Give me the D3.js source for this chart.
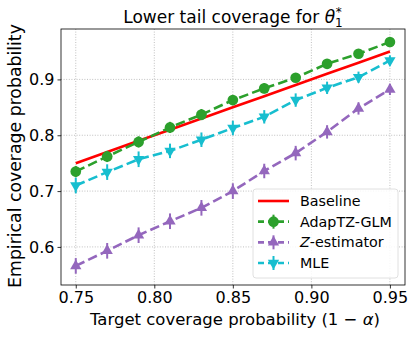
<!DOCTYPE html>
<html>
<head>
<meta charset="utf-8">
<script src="https://cdn.jsdelivr.net/npm/d3@7"></script>
<style>
  body { margin: 0; background: #fff; }
  text { font-family: "DejaVu Sans", sans-serif; fill: #000; }
</style>
</head>
<body>
<script>
//chart data
var targets = [0.75, 0.77, 0.79, 0.81, 0.83, 0.85, 0.87, 0.89, 0.91, 0.93, 0.95];
var adapValues = [0.735, 0.762, 0.788, 0.814, 0.837, 0.863, 0.884, 0.903, 0.928, 0.946, 0.967];
var zestValues = [0.566, 0.593, 0.621, 0.646, 0.670, 0.700, 0.736, 0.768, 0.806, 0.848, 0.882];
var mleValues = [0.710, 0.734, 0.757, 0.772, 0.792, 0.813, 0.833, 0.863, 0.885, 0.904, 0.934];
var adapErr = [0.010, 0.010, 0.010, 0.010, 0.010, 0.009, 0.009, 0.008, 0.008, 0.007, 0.007];
var zestErr = [0.014, 0.014, 0.014, 0.014, 0.014, 0.014, 0.013, 0.013, 0.012, 0.011, 0.010];
var mleErr = [0.014, 0.014, 0.014, 0.013, 0.013, 0.013, 0.012, 0.012, 0.011, 0.010, 0.009];
var xTicks = [0.75, 0.80, 0.85, 0.90, 0.95];
var yTicks = [0.6, 0.7, 0.8, 0.9];
var legendNames = ["Baseline", "AdapTZ-GLM", "Z-estimator", "MLE"];

var w = 416, h = 337;
var pLeft = 61, pRight = 405, pTop = 29, pBottom = 285;

window.onload = function(){

    var svg = d3.select("body")
        .append("svg")
        .attr("width", w)
        .attr("height", h);

    var x = d3.scaleLinear()
        .domain([0.7406, 0.9596])
        .range([pLeft, pRight]);

    var y = d3.scaleLinear()
        .domain([0.5318, 0.9903])
        .range([pBottom, pTop]);

    //dotted grid
    svg.append("g").selectAll("line")
        .data(xTicks)
        .enter()
        .append("line")
        .attr("x1", function(d){ return x(d); })
        .attr("x2", function(d){ return x(d); })
        .attr("y1", pTop)
        .attr("y2", pBottom)
        .style("stroke", "#b0b0b0")
        .style("stroke-width", 0.8)
        .style("stroke-dasharray", "1,1.6");

    svg.append("g").selectAll("line")
        .data(yTicks)
        .enter()
        .append("line")
        .attr("y1", function(d){ return y(d); })
        .attr("y2", function(d){ return y(d); })
        .attr("x1", pLeft)
        .attr("x2", pRight)
        .style("stroke", "#b0b0b0")
        .style("stroke-width", 0.8)
        .style("stroke-dasharray", "1,1.6");

    //axes
    var xAxis = d3.axisBottom(x)
        .tickValues(xTicks)
        .tickFormat(d3.format(".2f"))
        .tickSize(3.5)
        .tickPadding(3);

    var yAxis = d3.axisLeft(y)
        .tickValues(yTicks)
        .tickFormat(d3.format(".1f"))
        .tickSize(3.5)
        .tickPadding(3);

    var gx = svg.append("g")
        .attr("transform", "translate(0," + pBottom + ")")
        .call(xAxis);
    var gy = svg.append("g")
        .attr("transform", "translate(" + pLeft + ",0)")
        .call(yAxis);
    [gx, gy].forEach(function(g){
        g.select(".domain").remove();
        g.selectAll("text").style("font-size", "16px").style("font-family", "DejaVu Sans");
        g.selectAll("line").style("stroke", "#000").style("stroke-width", 0.8);
    });

    svg.append("rect")
        .attr("x", pLeft)
        .attr("y", pTop)
        .attr("width", pRight - pLeft)
        .attr("height", pBottom - pTop)
        .style("fill", "none")
        .style("stroke", "#000")
        .style("stroke-width", 0.8);

    //baseline y = x
    var line = d3.line()
        .x(function(d){ return x(d[0]); })
        .y(function(d){ return y(d[1]); });

    svg.append("path")
        .datum(targets.map(function(t){ return [t, t]; }))
        .attr("d", line)
        .style("fill", "none")
        .style("stroke", "#ff0000")
        .style("stroke-width", 2.6);

    var series = [
        {name: legendNames[1], values: adapValues, err: adapErr, color: "#2ca02c", sym: d3.symbolCircle, size: 90, rot: 0},
        {name: legendNames[2], values: zestValues, err: zestErr, color: "#9467bd", sym: d3.symbolTriangle, size: 55, rot: 0},
        {name: legendNames[3], values: mleValues, err: mleErr, color: "#17becf", sym: d3.symbolTriangle, size: 55, rot: 180}
    ];

    series.forEach(function(s){
        var pts = targets.map(function(t, i){ return [t, s.values[i], s.err[i]]; });
        var g = svg.append("g");

        g.append("path")
            .datum(pts)
            .attr("d", line)
            .style("fill", "none")
            .style("stroke", s.color)
            .style("stroke-width", 2.6)
            .style("stroke-dasharray", "9.6,4.2");

        g.selectAll(".err")
            .data(pts)
            .enter()
            .append("line")
            .attr("x1", function(d){ return x(d[0]); })
            .attr("x2", function(d){ return x(d[0]); })
            .attr("y1", function(d){ return y(d[1] - d[2]); })
            .attr("y2", function(d){ return y(d[1] + d[2]); })
            .style("stroke", s.color)
            .style("stroke-width", 2);

        g.selectAll(".mark")
            .data(pts)
            .enter()
            .append("path")
            .attr("d", d3.symbol().type(s.sym).size(s.size))
            .attr("transform", function(d){
                return "translate(" + x(d[0]) + "," + y(d[1]) + ") rotate(" + s.rot + ")";
            })
            .style("fill", s.color);
    });

    //title
    var title = svg.append("text")
        .attr("x", (pLeft + pRight) / 2)
        .attr("y", 23)
        .attr("text-anchor", "middle")
        .style("font-size", "17px");
    title.append("tspan").text("Lower tail coverage for ");
    title.append("tspan").style("font-style", "italic").text("θ");
    title.append("tspan").attr("dy", 4).style("font-size", "12px").text("1");
    title.append("tspan").attr("dx", -7).attr("dy", -11).style("font-size", "12px").text("*");

    //axis labels
    var xl = svg.append("text")
        .attr("x", (pLeft + pRight) / 2 + 2)
        .attr("y", 325)
        .attr("text-anchor", "middle")
        .style("font-size", "16.5px");
    xl.append("tspan").text("Target coverage probability (1 − ");
    xl.append("tspan").style("font-style", "italic").text("α");
    xl.append("tspan").text(")");

    svg.append("text")
        .attr("transform", "translate(21," + ((pTop + pBottom) / 2 - 1) + ") rotate(-90)")
        .attr("text-anchor", "middle")
        .style("font-size", "17.3px")
        .text("Empirical coverage probability");

    //legend
    var lg = svg.append("g").attr("transform", "translate(253,189)");
    lg.append("rect")
        .attr("width", 145)
        .attr("height", 89)
        .attr("rx", 3)
        .style("fill", "rgba(255,255,255,0.85)")
        .style("stroke", "#d8d8d8")
        .style("stroke-width", 0.8);

    var rowY = d3.scaleLinear().domain([0, 3]).range([12, 74]);
    var items = [{name: legendNames[0], color: "#ff0000", sym: null}].concat(series);

    items.forEach(function(s, i){
        var row = lg.append("g").attr("transform", "translate(0," + rowY(i) + ")");
        row.append("line")
            .attr("x1", 5)
            .attr("x2", 36)
            .style("stroke", s.color)
            .style("stroke-width", 2.6)
            .style("stroke-dasharray", s.sym ? "6,4" : null);
        if (s.sym) {
            row.append("line")
                .attr("x1", 20.5).attr("x2", 20.5)
                .attr("y1", -7).attr("y2", 7)
                .style("stroke", s.color)
                .style("stroke-width", 2);
            row.append("path")
                .attr("d", d3.symbol().type(s.sym).size(s.size))
                .attr("transform", "translate(20.5,0) rotate(" + s.rot + ")")
                .style("fill", s.color);
        }
        var t = row.append("text")
            .attr("x", 47)
            .attr("y", 5)
            .style("font-size", "14.3px");
        if (s.name === "Z-estimator") {
            t.append("tspan").style("font-style", "italic").text("Z");
            t.append("tspan").text("-estimator");
        } else {
            t.text(s.name);
        }
    });
};
</script>
</body>
</html>
